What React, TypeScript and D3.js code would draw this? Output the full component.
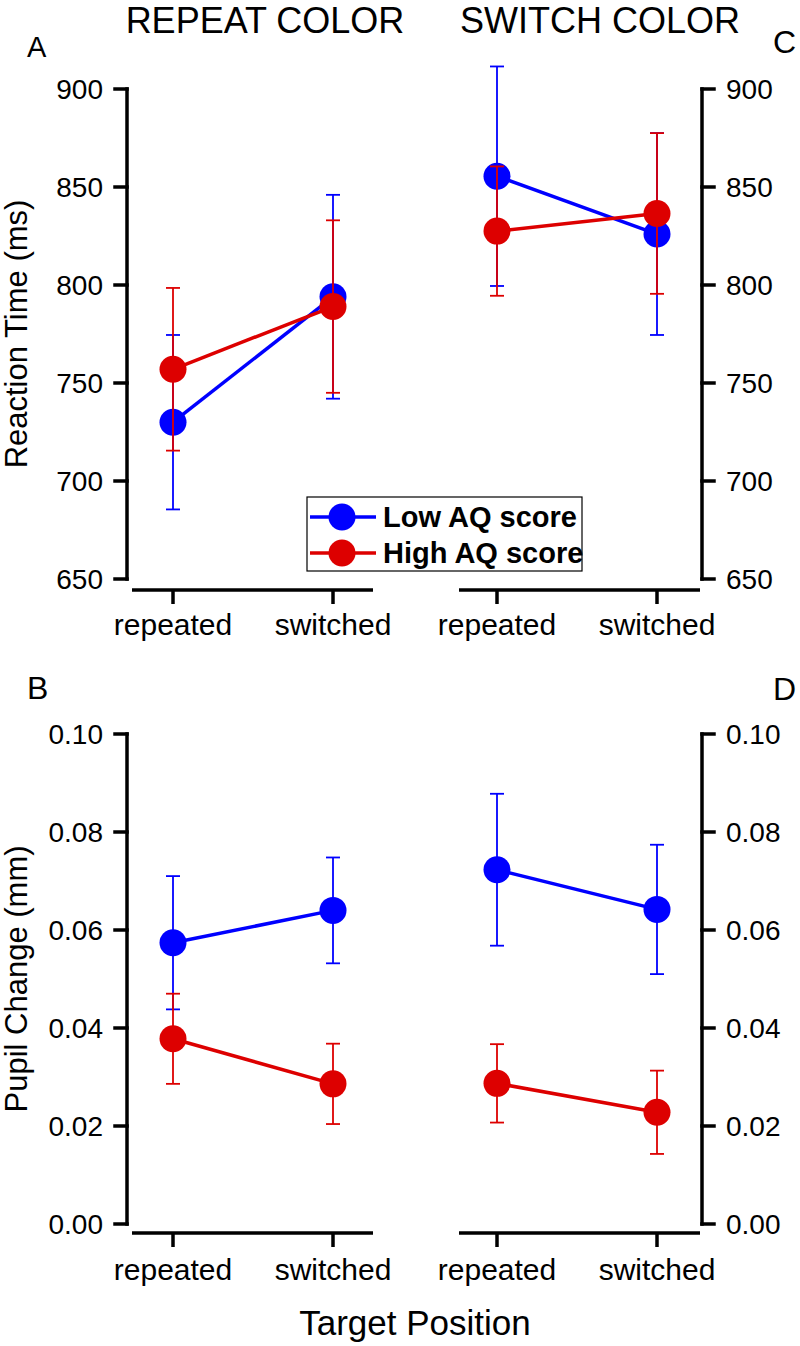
import React from 'react';
import * as d3 from 'd3';

const conditions = ['repeated', 'switched'];
const groupNames = ['Low AQ score', 'High AQ score'];
const groupColors = ['#0000FF', '#DD0000'];

// Reaction time (ms), repeat color
const rtRepeatLowMean = [730, 794];
const rtRepeatLowErr = [44.5, 52];
const rtRepeatHighMean = [757, 789];
const rtRepeatHighErr = [41.5, 44];
// Reaction time (ms), switch color
const rtSwitchLowMean = [855.5, 826];
const rtSwitchLowErr = [56, 51.5];
const rtSwitchHighMean = [827.5, 836.5];
const rtSwitchHighErr = [33, 41];

// Pupil change (mm), repeat color
const pupilRepeatLowMean = [0.0574, 0.064];
const pupilRepeatLowErr = [0.0136, 0.0108];
const pupilRepeatHighMean = [0.0378, 0.0286];
const pupilRepeatHighErr = [0.0092, 0.0082];
// Pupil change (mm), switch color
const pupilSwitchLowMean = [0.0723, 0.0642];
const pupilSwitchLowErr = [0.0155, 0.0132];
const pupilSwitchHighMean = [0.0287, 0.0228];
const pupilSwitchHighErr = [0.008, 0.0085];

const rtTicks = [650, 700, 750, 800, 850, 900];
const pupilTicks = [0, 0.02, 0.04, 0.06, 0.08, 0.1];

const FONT = '"Liberation Sans", Arial, sans-serif';

type Series = { mean: number[]; err: number[]; color: string };

function Panel(props: {
  x: d3.ScalePoint<string>;
  y: d3.ScaleLinear<number, number>;
  side: 'left' | 'right';
  axisX: number;
  ticks: number[];
  fmt: (v: number) => string;
  series: Series[];
  xAxisExtent: [number, number];
  xAxisY: number;
  tickLabelY: number;
}) {
  const { x, y, side, axisX, ticks, fmt, series, xAxisExtent, xAxisY, tickLabelY } = props;
  const [y0, y1] = y.range();
  const dir = side === 'left' ? -1 : 1;
  const line = d3
    .line<number>()
    .x((_, i) => x(conditions[i]) as number)
    .y((d) => y(d));
  return (
    <g>
      {/* y axis */}
      <line x1={axisX} x2={axisX} y1={y0} y2={y1} stroke="#000" strokeWidth={3.5} strokeLinecap="square" />
      {ticks.map((t) => (
        <g key={t}>
          <line x1={axisX} x2={axisX + dir * 12} y1={y(t)} y2={y(t)} stroke="#000" strokeWidth={3.5} strokeLinecap="square" />
          <text
            x={axisX + dir * 24}
            y={y(t) + 10}
            textAnchor={side === 'left' ? 'end' : 'start'}
            fontSize={28}
            fontFamily={FONT}
          >
            {fmt(t)}
          </text>
        </g>
      ))}
      {/* x axis */}
      <line x1={xAxisExtent[0]} x2={xAxisExtent[1]} y1={xAxisY} y2={xAxisY} stroke="#000" strokeWidth={3.5} />
      {conditions.map((c) => (
        <g key={c}>
          <line x1={x(c)} x2={x(c)} y1={xAxisY} y2={xAxisY + 14} stroke="#000" strokeWidth={3.5} />
          <text x={x(c)} y={tickLabelY} textAnchor="middle" fontSize={30} fontFamily={FONT}>
            {c}
          </text>
        </g>
      ))}
      {/* series */}
      {series.map((s, si) => (
        <g key={si}>
          <path d={line(s.mean) || ''} fill="none" stroke={s.color} strokeWidth={3.5} />
          {s.mean.map((m, i) => {
            const cx = x(conditions[i]) as number;
            const top = y(m + s.err[i]);
            const bot = y(m - s.err[i]);
            return (
              <g key={i} stroke={s.color} strokeWidth={1.8}>
                <line x1={cx} x2={cx} y1={top} y2={bot} />
                <line x1={cx - 7} x2={cx + 7} y1={top} y2={top} />
                <line x1={cx - 7} x2={cx + 7} y1={bot} y2={bot} />
              </g>
            );
          })}
          {s.mean.map((m, i) => (
            <circle key={'c' + i} cx={x(conditions[i])} cy={y(m)} r={13.5} fill={s.color} />
          ))}
        </g>
      ))}
    </g>
  );
}

export default function App() {
  const xLeft = d3.scalePoint<string>().domain(conditions).range([173, 333]);
  const xRight = d3.scalePoint<string>().domain(conditions).range([497, 657]);
  const yRT = d3.scaleLinear().domain([650, 900]).range([579, 89]);
  const yPupil = d3.scaleLinear().domain([0, 0.1]).range([1224, 734]);
  const fmtRT = d3.format('d');
  const fmtPupil = d3.format('.2f');

  return (
    <svg
      width={800}
      height={1346}
      style={{ position: 'absolute', left: 0, top: 0, background: '#fff' }}
      fontFamily={FONT}
    >
      <rect x={0} y={0} width={800} height={1346} fill="#fff" />
      <text x={265} y={33} textAnchor="middle" fontSize={36}>REPEAT COLOR</text>
      <text x={600} y={33} textAnchor="middle" fontSize={36}>SWITCH COLOR</text>
      <text x={27} y={57} fontSize={29}>A</text>
      <text x={773} y={53} fontSize={32}>C</text>
      <text x={27} y={699} fontSize={32}>B</text>
      <text x={773} y={700} fontSize={32}>D</text>

      <text transform={`translate(27,334) rotate(-90)`} textAnchor="middle" fontSize={31}>
        Reaction Time (ms)
      </text>
      <text transform={`translate(27,979) rotate(-90)`} textAnchor="middle" fontSize={31}>
        Pupil Change (mm)
      </text>
      <text x={415} y={1335} textAnchor="middle" fontSize={35}>Target Position</text>

      <Panel
        x={xLeft}
        y={yRT}
        side="left"
        axisX={127}
        ticks={rtTicks}
        fmt={fmtRT}
        xAxisExtent={[132, 373]}
        xAxisY={590}
        tickLabelY={635}
        series={[
          { mean: rtRepeatLowMean, err: rtRepeatLowErr, color: groupColors[0] },
          { mean: rtRepeatHighMean, err: rtRepeatHighErr, color: groupColors[1] },
        ]}
      />
      <Panel
        x={xRight}
        y={yRT}
        side="right"
        axisX={702}
        ticks={rtTicks}
        fmt={fmtRT}
        xAxisExtent={[459, 700]}
        xAxisY={590}
        tickLabelY={635}
        series={[
          { mean: rtSwitchLowMean, err: rtSwitchLowErr, color: groupColors[0] },
          { mean: rtSwitchHighMean, err: rtSwitchHighErr, color: groupColors[1] },
        ]}
      />
      <Panel
        x={xLeft}
        y={yPupil}
        side="left"
        axisX={127}
        ticks={pupilTicks}
        fmt={fmtPupil}
        xAxisExtent={[132, 373]}
        xAxisY={1233}
        tickLabelY={1280}
        series={[
          { mean: pupilRepeatLowMean, err: pupilRepeatLowErr, color: groupColors[0] },
          { mean: pupilRepeatHighMean, err: pupilRepeatHighErr, color: groupColors[1] },
        ]}
      />
      <Panel
        x={xRight}
        y={yPupil}
        side="right"
        axisX={702}
        ticks={pupilTicks}
        fmt={fmtPupil}
        xAxisExtent={[459, 700]}
        xAxisY={1233}
        tickLabelY={1280}
        series={[
          { mean: pupilSwitchLowMean, err: pupilSwitchLowErr, color: groupColors[0] },
          { mean: pupilSwitchHighMean, err: pupilSwitchHighErr, color: groupColors[1] },
        ]}
      />

      {/* legend */}
      <g>
        <rect x={307} y={497} width={275} height={74} fill="#fff" stroke="#000" strokeWidth={1.2} />
        {groupNames.map((name, i) => {
          const ly = 517 + i * 36;
          return (
            <g key={name}>
              <line x1={310} x2={376} y1={ly} y2={ly} stroke={groupColors[i]} strokeWidth={3.5} />
              <circle cx={342} cy={ly} r={13.5} fill={groupColors[i]} />
              <text x={383} y={ly + 10} fontSize={29} fontWeight="bold">
                {name}
              </text>
            </g>
          );
        })}
      </g>
    </svg>
  );
}
